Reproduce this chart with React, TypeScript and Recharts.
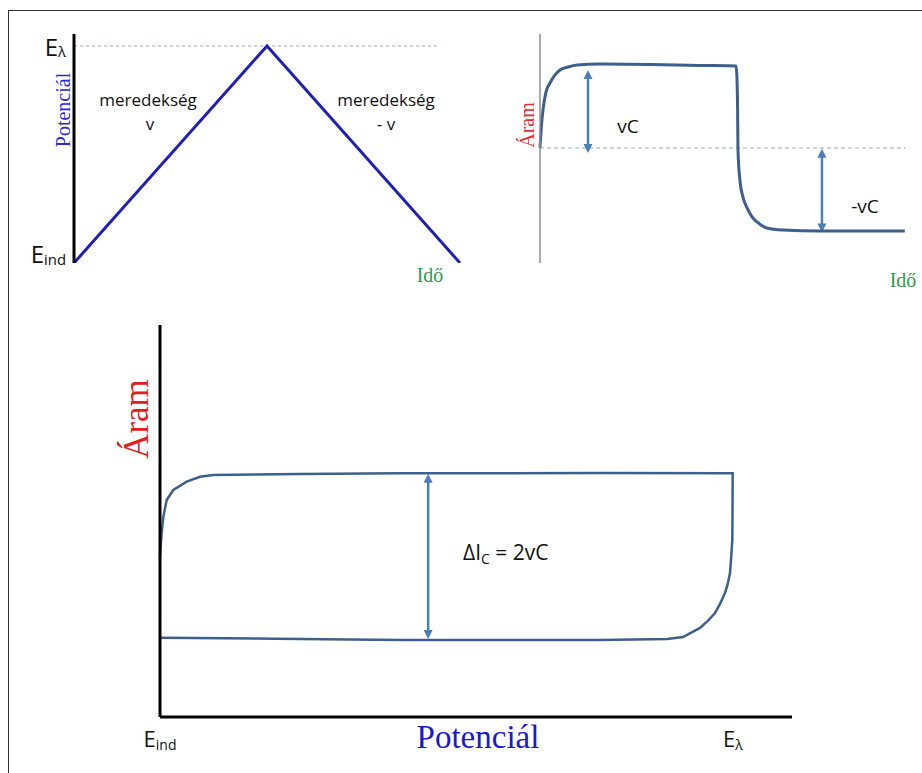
import { LineChart, Line, XAxis, YAxis, ReferenceLine } from "recharts";

// top-left: triangular potential sweep
const sweepTime = [0, 1, 2];
const sweepPotential = [0, 1, 0];

// top-right: charging current vs time
const currentTime = [
  0, 0.04, 0.079, 0.158, 0.263, 0.395, 0.526, 0.737, 0.974, 1.579, 2.89, 4.21,
  5.16, 5.18, 5.2, 5.21, 5.26, 5.34, 5.45, 5.58, 5.71, 5.97, 6.39, 7.37, 9.6,
];
const currentValue = [
  0, 0.277, 0.458, 0.675, 0.783, 0.88, 0.94, 0.976, 1.0, 1.012, 1.006, 0.994,
  0.988, 0.88, 0.458, -0.024, -0.386, -0.59, -0.723, -0.831, -0.892, -0.964,
  -0.988, -1.0, -1.0,
];

// bottom: cyclic voltammogram of the double layer
const cvPotential = [
  0, 0.0026, 0.0058, 0.0117, 0.0232, 0.0466, 0.0698, 0.0925, 0.244, 0.419,
  0.768, 0.9995, 0.9991, 0.9988, 0.9965, 0.9948, 0.9904, 0.986, 0.9773, 0.9686,
  0.956, 0.9424, 0.9127, 0.885, 0.768, 0.419, 0.244, 0,
];
const cvCurrent = [
  0, 0.253, 0.47, 0.675, 0.795, 0.895, 0.955, 0.976, 0.988, 0.996, 1.0, 0.996,
  0.434, 0.193, -0.048, -0.205, -0.349, -0.446, -0.578, -0.687, -0.783, -0.867,
  -0.976, -1.0, -1.012, -1.012, -1.0, -0.984,
];

const sweepData = sweepTime.map((t, i) => ({ t, e: sweepPotential[i] }));
const currentData = currentTime.map((t, i) => ({ t, i: currentValue[i] }));
const cvData = cvPotential.map((e, i) => ({ e, i: cvCurrent[i] }));

const SANS = "'Open Sans', sans-serif";
const SERIF = "'Liberation Serif', 'Times New Roman', serif";
const ARROW = "#4a7ebb";
const CURVE = "#3d5f8c";
const DASH = "#8fabcb";

const Arrow = (props: any) => {
  const { x1, y1, x2, y2 } = props;
  const h = 9;
  const w = 4.5;
  return (
    <g>
      <line x1={x1} y1={y1 + h - 1} x2={x2} y2={y2 - h + 1} stroke={ARROW} strokeWidth={2.5} />
      <polygon points={`${x1},${y1} ${x1 - w},${y1 + h} ${x1 + w},${y1 + h}`} fill={ARROW} />
      <polygon points={`${x2},${y2} ${x2 - w},${y2 - h} ${x2 + w},${y2 - h}`} fill={ARROW} />
    </g>
  );
};

const yTick = (size: number) => (props: any) => {
  const { x, y, payload } = props;
  const top = payload.value === 1;
  return (
    <text x={x} y={top ? y + 10 : y} textAnchor="end" fontFamily={SANS} fontSize={size} fill="#111">
      E
      <tspan fontSize={size * 0.62} dy={top ? 1 : 2}>
        {top ? "λ" : "ind"}
      </tspan>
    </text>
  );
};

const xTick = (props: any) => {
  const { x, payload } = props;
  const top = payload.value === 1;
  return (
    <text x={x} y={457} textAnchor="middle" fontFamily={SANS} fontSize={22} fill="#111">
      E
      <tspan fontSize={14} dy={3}>
        {top ? "λ" : "ind"}
      </tspan>
    </text>
  );
};

export default function App() {
  return (
    <div style={{ position: "absolute", left: 0, top: 0, width: 922, height: 773, background: "#fff" }}>
      <div style={{ position: "absolute", left: 0, top: 0 }}>
        <LineChart width={470} height={290} data={sweepData} margin={{ top: 34, right: 10, bottom: 27, left: 0 }}>
          <XAxis type="number" dataKey="t" domain={[0, 2]} height={0} tick={false} tickLine={false} axisLine={{ stroke: "#000", strokeWidth: 3 }} />
          <YAxis type="number" domain={[0, 1.055]} width={74} ticks={[0, 1]} tickLine={false} tick={yTick(24)} axisLine={{ stroke: "#000", strokeWidth: 3 }} allowDataOverflow />
          <ReferenceLine segment={[{ x: 0, y: 1 }, { x: 1.88, y: 1 }]} stroke={DASH} strokeDasharray="3 3" strokeWidth={1} />
          <Line dataKey="e" type="linear" stroke="#2020b4" strokeWidth={3} dot={false} isAnimationActive={false} />
        </LineChart>
      </div>

      <div style={{ position: "absolute", left: 470, top: 0 }}>
        <LineChart width={452} height={290} data={currentData} margin={{ top: 34, right: 2, bottom: 27, left: 0 }}>
          <XAxis type="number" dataKey="t" domain={[0, 10]} height={0} tick={false} tickLine={false} axisLine={{ stroke: "#8c8c8c", strokeWidth: 1.5 }} />
          <YAxis type="number" domain={[-1.386, 1.373]} width={70} tick={false} tickLine={false} axisLine={{ stroke: "#8c8c8c", strokeWidth: 1.5 }} allowDataOverflow />
          <ReferenceLine segment={[{ x: 0, y: 0 }, { x: 9.63, y: 0 }]} stroke={DASH} strokeDasharray="4 3" strokeWidth={1} />
          <ReferenceLine segment={[{ x: 1.263, y: 0.94 }, { x: 1.263, y: -0.06 }]} shape={Arrow} />
          <ReferenceLine segment={[{ x: 7.42, y: -0.01 }, { x: 7.42, y: -1.02 }]} shape={Arrow} />
          <Line dataKey="i" type="monotone" stroke={CURVE} strokeWidth={3} dot={false} isAnimationActive={false} />
        </LineChart>
      </div>

      <div style={{ position: "absolute", left: 0, top: 290 }}>
        <LineChart width={922} height={483} data={cvData} margin={{ top: 35, right: 130, bottom: 16, left: 0 }}>
          <XAxis type="number" dataKey="e" domain={[0, 1.103]} height={40} ticks={[0, 1]} tickLine={false} tick={xTick} axisLine={{ stroke: "#000", strokeWidth: 3 }} interval={0} />
          <YAxis type="number" domain={[-1.94, 2.783]} width={160} tick={false} tickLine={false} axisLine={{ stroke: "#000", strokeWidth: 3 }} allowDataOverflow />
          <ReferenceLine segment={[{ x: 0.468, y: 0.99 }, { x: 0.468, y: -1.0 }]} shape={Arrow} />
          <Line dataKey="i" type="linear" stroke={CURVE} strokeWidth={2.5} dot={false} isAnimationActive={false} />
        </LineChart>
      </div>

      <svg width={922} height={773} style={{ position: "absolute", left: 0, top: 0, pointerEvents: "none" }}>
        <line x1={8} y1={10.5} x2={922} y2={10.5} stroke="#333" strokeWidth={1} />
        <line x1={8.5} y1={10} x2={8.5} y2={773} stroke="#333" strokeWidth={1} />

        <text transform="translate(70,110) rotate(-90)" textAnchor="middle" fontFamily={SERIF} fontSize={20} fill="#2a2ad0">Potenciál</text>
        <text x={148} y={106} textAnchor="middle" fontFamily={SANS} fontSize={17} fill="#111">meredekség</text>
        <text x={150} y={130} textAnchor="middle" fontFamily={SANS} fontSize={17} fill="#111">v</text>
        <text x={386} y={106} textAnchor="middle" fontFamily={SANS} fontSize={17} fill="#111">meredekség</text>
        <text x={386} y={130} textAnchor="middle" fontFamily={SANS} fontSize={17} fill="#111">- v</text>
        <text x={430} y={282} textAnchor="middle" fontFamily={SERIF} fontSize={20} fill="#2e9a4a">Idő</text>

        <text transform="translate(534,125) rotate(-90)" textAnchor="middle" fontFamily={SERIF} fontSize={20} fill="#e03030">Áram</text>
        <text x={628} y={133} textAnchor="middle" fontFamily={SANS} fontSize={19} fill="#111">vC</text>
        <text x={865} y={213} textAnchor="middle" fontFamily={SANS} fontSize={19} fill="#111">-vC</text>
        <text x={903} y={287} textAnchor="middle" fontFamily={SERIF} fontSize={20} fill="#2e9a4a">Idő</text>

        <text transform="translate(148,419) rotate(-90)" textAnchor="middle" fontFamily={SERIF} fontSize={35} fill="#e02020">Áram</text>
        <text x={463} y={560} fontFamily={SANS} fontSize={21} fill="#111">
          ΔI<tspan fontSize={14} dy={4}>C</tspan>
          <tspan dy={-4}> = 2vC</tspan>
        </text>
        <text x={478} y={748} textAnchor="middle" fontFamily={SERIF} fontSize={33} fill="#1a1acc">Potenciál</text>
      </svg>
    </div>
  );
}
